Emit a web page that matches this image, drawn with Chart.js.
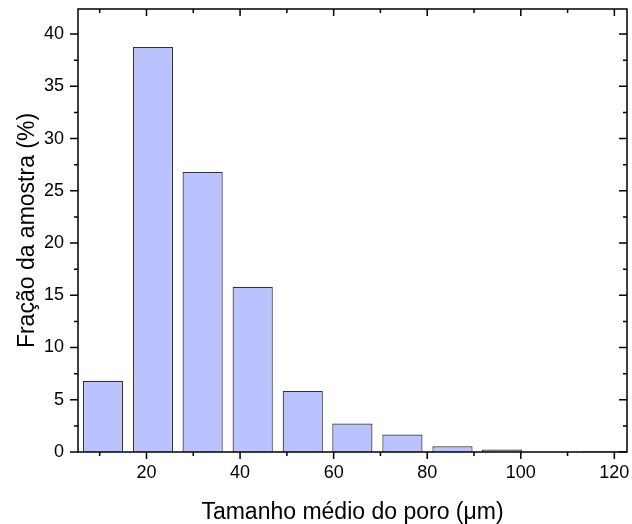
<!DOCTYPE html>
<html>
<head>
<meta charset="utf-8">
<script src="https://cdn.jsdelivr.net/npm/chart.js@4/dist/chart.umd.min.js"></script>
<style>
  html, body { margin: 0; padding: 0; background: #fff; }
  #wrap { width: 632px; height: 524px; }
</style>
</head>
<body>
<div id="wrap"><canvas id="chart" width="632" height="524"></canvas></div>
<script>
// centros das classes (µm) e fração da amostra (%)
const binCenters = [10.7, 21.4, 32.0, 42.7, 53.4, 64.0, 74.7, 85.4, 96.0, 106.7, 117.4];
const fractions = [6.81, 38.77, 26.79, 15.82, 5.85, 2.72, 1.67, 0.55, 0.23, 0, 0.07];

const xTicks = [20, 40, 60, 80, 100, 120];
const xMinorTicks = [10, 30, 50, 70, 90, 110];
const yTicks = [0, 5, 10, 15, 20, 25, 30, 35, 40];
const yMinorTicks = [2.5, 7.5, 12.5, 17.5, 22.5, 27.5, 32.5, 37.5, 42.5];

const xRange = [5.36, 122.7];
const yRange = [0, 42.4];

const fontFamily = "Arial, 'Liberation Sans', sans-serif";

// moldura e marcas dos eixos (estilo Origin)
const framePlugin = {
    id: 'frame',
    afterDraw(chart) {
        const ctx = chart.ctx;
        const a = chart.chartArea;
        const xs = chart.scales.x;
        const ys = chart.scales.y;
        ctx.save();
        ctx.strokeStyle = '#000';
        ctx.lineWidth = 1.5;
        ctx.strokeRect(a.left, a.top, a.right - a.left, a.bottom - a.top);

        ctx.beginPath();
        const xMark = (v, len) => {
            const px = xs.getPixelForValue(v);
            if (px < a.left || px > a.right) return;
            ctx.moveTo(px, a.bottom); ctx.lineTo(px, a.bottom + len);
            ctx.moveTo(px, a.top); ctx.lineTo(px, a.top + len);
        };
        const yMark = (v, len) => {
            const py = ys.getPixelForValue(v);
            if (py < a.top || py > a.bottom) return;
            ctx.moveTo(a.left, py); ctx.lineTo(a.left - len, py);
            ctx.moveTo(a.right, py); ctx.lineTo(a.right - len, py);
        };
        xTicks.forEach(v => xMark(v, 7));
        xMinorTicks.forEach(v => xMark(v, 4));
        yTicks.forEach(v => yMark(v, 8));
        yMinorTicks.forEach(v => yMark(v, 4));
        ctx.stroke();
        ctx.restore();
    }
};

new Chart(document.getElementById('chart'), {
    type: 'bar',
    data: {
        datasets: [{
            data: binCenters.map((x, i) => ({ x: x, y: fractions[i] })),
            backgroundColor: '#bbc3fe',
            borderColor: '#333',
            borderWidth: 1.2,
            categoryPercentage: 1,
            barPercentage: 0.81
        }]
    },
    plugins: [framePlugin],
    options: {
        responsive: false,
        animation: false,
        layout: { padding: { top: 9, right: 5, left: 0, bottom: 0 } },
        plugins: {
            legend: { display: false },
            tooltip: { enabled: false }
        },
        scales: {
            x: {
                type: 'linear',
                offset: false,
                min: xRange[0],
                max: xRange[1],
                grid: { display: false, drawTicks: false },
                border: { display: false },
                afterBuildTicks: s => { s.ticks = xTicks.map(v => ({ value: v })); },
                afterFit: s => { s.height = 72; s.paddingLeft = 0; s.paddingRight = 0; },
                ticks: {
                    padding: 10,
                    maxRotation: 0,
                    color: '#000',
                    font: { family: fontFamily, size: 18 }
                },
                title: {
                    display: true,
                    text: 'Tamanho médio do poro (μm)',
                    color: '#000',
                    padding: { top: 0, bottom: 0 },
                    font: { family: fontFamily, size: 23, lineHeight: 1.0 }
                }
            },
            y: {
                min: yRange[0],
                max: yRange[1],
                grid: { display: false, drawTicks: false },
                border: { display: false },
                afterBuildTicks: s => { s.ticks = yTicks.map(v => ({ value: v })); },
                afterFit: s => { s.width = 78; s.paddingTop = 0; s.paddingBottom = 0; },
                ticks: {
                    padding: 14,
                    color: '#000',
                    font: { family: fontFamily, size: 18 }
                },
                title: {
                    display: true,
                    text: 'Fração da amostra (%)',
                    color: '#000',
                    padding: { top: 14, bottom: 0 },
                    font: { family: fontFamily, size: 23 }
                }
            }
        }
    }
});
</script>
</body>
</html>
